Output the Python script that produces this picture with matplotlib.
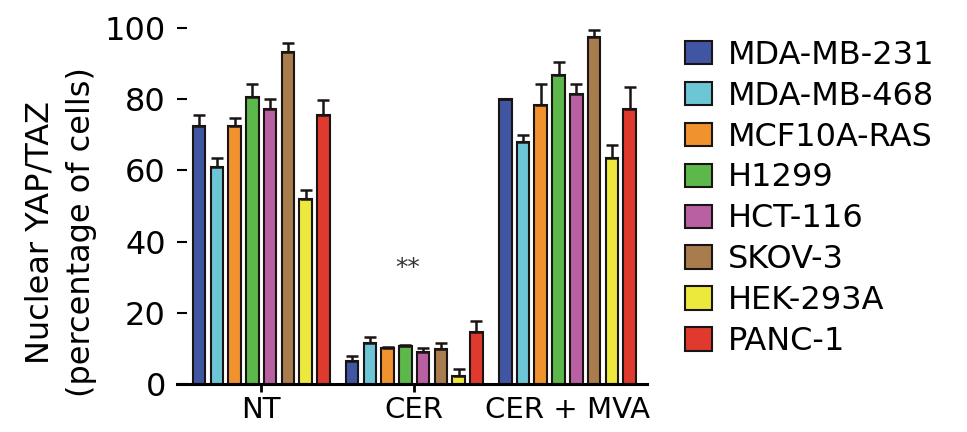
import matplotlib.pyplot as plt
import numpy as np

groups = ["NT", "CER", "CER + MVA"]
cell_lines = ["MDA-MB-231", "MDA-MB-468", "MCF10A-RAS", "H1299",
              "HCT-116", "SKOV-3", "HEK-293A", "PANC-1"]
colors = ["#4056a2", "#6cc6d6", "#f0922e", "#5cb84a",
          "#b860a2", "#a87c4c", "#ece83c", "#e0392e"]

# mean % nuclear YAP/TAZ per cell line, one value per group (NT, CER, CER+MVA)
means = {
    "MDA-MB-231": [72.5, 6.5, 80.0],
    "MDA-MB-468": [61.0, 11.6, 68.1],
    "MCF10A-RAS": [72.5, 10.0, 78.4],
    "H1299":      [80.7, 10.8, 86.8],
    "HCT-116":    [77.2, 8.9, 81.5],
    "SKOV-3":     [93.3, 9.8, 97.6],
    "HEK-293A":   [52.0, 2.3, 63.6],
    "PANC-1":     [75.5, 14.5, 77.2],
}
errs = {
    "MDA-MB-231": [3.0, 1.5, 0.0],
    "MDA-MB-468": [2.5, 1.5, 1.9],
    "MCF10A-RAS": [2.2, 0.5, 5.8],
    "H1299":      [3.5, 0.2, 3.6],
    "HCT-116":    [2.8, 1.1, 2.9],
    "SKOV-3":     [2.4, 1.8, 1.7],
    "HEK-293A":   [2.5, 1.9, 3.5],
    "PANC-1":     [4.4, 3.2, 6.1],
}

plt.rcParams['font.family'] = ['DejaVu Sans']
fig = plt.figure(figsize=(9.67, 4.32), dpi=100)
ax = fig.add_axes([177/967, 48/432, (647-177)/967, 356/432])

x = np.arange(len(groups))
pitch = 0.116
width = 0.082
for i, name in enumerate(cell_lines):
    pos = x + (i - 3.5) * pitch
    ax.bar(pos, means[name], width, color=colors[i], edgecolor="#1a1414",
           linewidth=1.5, label=name, zorder=2)
    ax.errorbar(pos, means[name], yerr=[np.zeros(3), errs[name]], fmt="none",
                ecolor="#1a1414", elinewidth=1.8, capsize=4, capthick=1.8, zorder=3)

ax.text(0.96, 32.5, "**", ha="center", va="center", fontsize=18, color="#333333")

ax.set_xlim(-0.55, 2.52)
ax.set_ylim(0, 100)
ax.set_yticks([0, 20, 40, 60, 80, 100])
ax.set_xticks(x)
ax.set_xticklabels(groups, fontsize=21)
ax.xaxis.get_major_ticks()[2].tick1line.set_visible(False)
ax.tick_params(axis="y", direction="in", length=7, width=1.5, pad=8, labelsize=23)
ax.tick_params(axis="x", direction="out", length=6, width=2, pad=3)
for s in ["top", "right", "left"]:
    ax.spines[s].set_visible(False)
ax.spines["bottom"].set_linewidth(2.2)

fig.text(61/967, 1 - 232/432, "Nuclear YAP/TAZ\n(percentage of cells)",
         rotation=90, ha="center", va="center", fontsize=23,
         linespacing=1.45, multialignment="center")

fig.legend(loc="upper left", bbox_to_anchor=(672/967, 1 - 27/432), frameon=False,
           fontsize=23, handlelength=0.85, handleheight=0.75,
           handletextpad=0.5, labelspacing=0.31, borderaxespad=0)

fig.savefig("out.png", dpi=100)
